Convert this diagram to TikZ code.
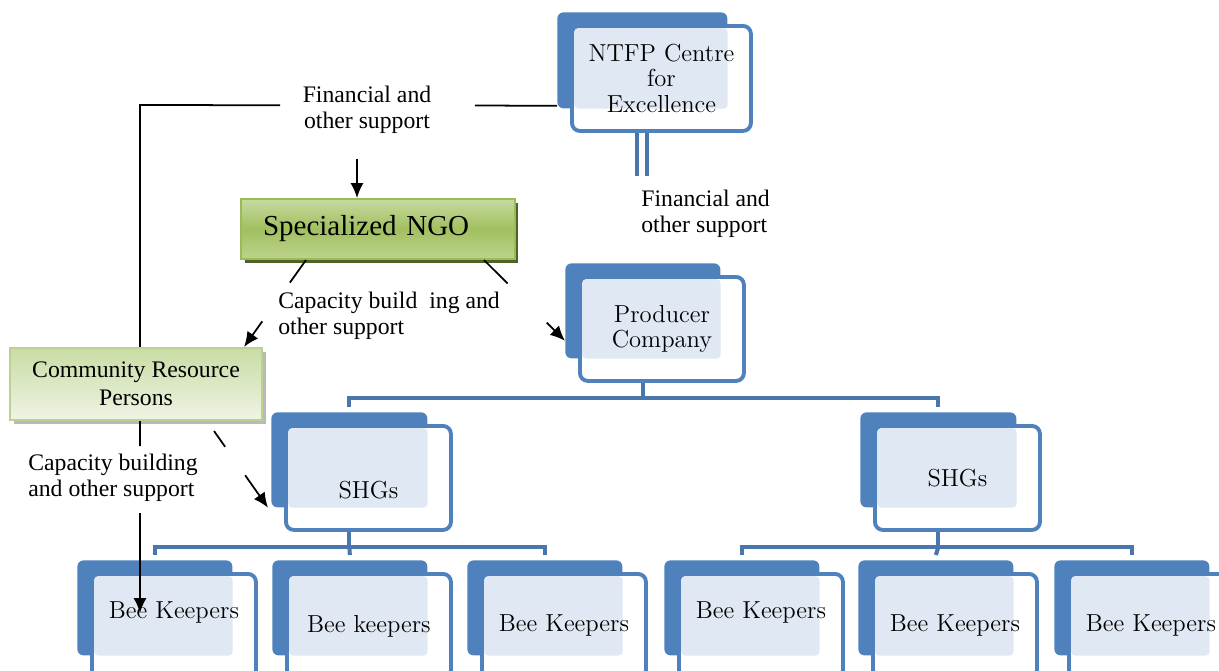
\documentclass[tikz,border=0pt]{standalone}
\usepackage{fontspec}
\usepackage{tikz}
\usetikzlibrary{calc,arrows.meta,shadows}
\newfontfamily\timesf{Liberation Serif}
\definecolor{tabblue}{HTML}{4F81BD}
\definecolor{treeblue}{HTML}{4A76AE}
\definecolor{texfill}{HTML}{E0E8F3}
\definecolor{ngotop}{HTML}{C5DA9E}
\definecolor{ngomid}{HTML}{A2C060}
\definecolor{ngobot}{HTML}{BCD38E}
\definecolor{ngoline}{HTML}{9BBB59}
\definecolor{ngoshade}{HTML}{4F6228}
\definecolor{crptop}{HTML}{C9DCA4}
\definecolor{crpbot}{HTML}{EEF4E4}
\definecolor{crpline}{HTML}{BCD291}
\pgfdeclarelayer{bg}
\pgfsetlayers{bg,main}

\tikzset{
	backbox/.style={fill=tabblue,rounded corners=3.5pt,inner sep=0pt},
	frontbox/.style={draw=tabblue,line width=2.2pt,fill=white,rounded corners=4.5pt,inner sep=0pt},
	boxtext/.style={align=center,font=\fontsize{14}{14.5}\selectfont,inner sep=0pt},
	ngobox/.style={draw=ngoline,line width=1.2pt,top color=ngotop,bottom color=ngobot,middle color=ngomid,
		minimum height=1.2cm,text width=4.6cm,align=left,inner xsep=0.44cm,font=\timesf\fontsize{16.5}{18}\selectfont,
		drop shadow={shadow xshift=0.07cm,shadow yshift=-0.08cm,fill=ngoshade,opacity=1}},
	crpbox/.style={draw=crpline,line width=1.2pt,top color=crptop,bottom color=crpbot,
		minimum width=5.04cm,minimum height=1.44cm,align=center,font=\timesf\fontsize{13.5}{15.9}\selectfont,
		drop shadow={shadow xshift=0.08cm,shadow yshift=-0.08cm,fill=gray!55,opacity=1}},
	lbl/.style={font=\timesf\fontsize{13.5}{14.8}\selectfont,inner sep=0pt},
	link/.style={line width=1pt},
	arr/.style={link,-{Latex[length=8.5pt,width=7.5pt]}},
	tree/.style={draw=treeblue,line width=2.3pt},
}

\newcommand{\orgbox}[7]{%
	\node[backbox,anchor=north west,minimum width={#4*0.02cm},minimum height={#5*0.02cm}] (#1-back) at (#2,#3) {};
	\node[frontbox,anchor=north west,minimum width={(#4+9)*0.02cm},minimum height={(#5+9)*0.02cm}] (#1) at (#2+13,#3+12) {};
	\fill[texfill,rounded corners=2.5pt] ([shift={(0.08cm,-0.08cm)}]#1.north west) rectangle (#1-back.south east);
	\node[boxtext] (#1-text) at ([yshift={-0.02cm*(#6)}]#1.center) {#7};
}

\begin{document}
\begin{tikzpicture}[x=0.02cm,y=-0.02cm]
	\useasboundingbox (0,0) rectangle (1219,670);

	\orgbox{ntfp}{557}{12}{170}{96}{0}{NTFP Centre\\for\\Excellence}
	\orgbox{prod}{565}{263}{155}{95}{0}{Producer\\Company}
	\orgbox{shgl}{271}{412}{156}{95}{12}{SHGs}
	\orgbox{shgr}{860}{412}{156}{95}{0}{SHGs}
	\orgbox{bka}{77}{560}{155}{95}{-13}{Bee Keepers}
	\orgbox{bkb}{272}{560}{155}{95}{0}{Bee keepers}
	\orgbox{bkc}{467}{560}{155}{95}{0}{Bee Keepers}
	\orgbox{bkd}{664}{560}{155}{95}{-13}{Bee Keepers}
	\orgbox{bke}{858}{560}{155}{95}{0}{Bee Keepers}
	\orgbox{bkf}{1054}{560}{155}{95}{0}{Bee Keepers}

	\node[ngobox] (ngo) at (378,229) {Specialized NGO};
	\node[crpbox] (crp) at (136,384) {Community Resource\\Persons};

	\node[lbl,align=center] (fin1) at (367,110) {Financial and\\other support};
	\node[lbl,align=left,anchor=west] (fin2) at (641,214) {Financial and\\other support};
	\node[lbl,align=left,anchor=west] (cap1) at (278,316) {Capacity build\hspace{0.24cm}ing and\\other support};
	\node[lbl,align=left,anchor=west] (cap2) at (28,478) {Capacity building\\and other support};

	\begin{pgfonlayer}{bg}
	\path (ntfp-back.south |- ntfp.south) ++(0,43) coordinate (ntfp-out);
	\draw[tree,double=white,double distance=0.12cm,line width=0.08cm] (ntfp-back.south |- ntfp.south) -- (ntfp-out);
	\path (prod-back.south |- prod.south) ++(0,15) coordinate (prod-j);
	\draw[tree] (prod-back.south |- prod.south) -- (prod-j);
	\draw[tree] ([yshift=0.1cm]shgl-back.north) |- (prod-j) -| ([yshift=0.1cm]shgr-back.north);
	\path (shgl-back.south |- shgl.south) ++(0,15) coordinate (shgl-j);
	\draw[tree] (shgl-back.south |- shgl.south) -- (shgl-j);
	\draw[tree] ([yshift=0.1cm]bka-back.north) |- (shgl-j) -| ([yshift=0.1cm]bkc-back.north);
	\draw[tree] (shgl-j) -- ([yshift=0.1cm]bkb-back.north);
	\path (shgr-back.south |- shgr.south) ++(0,15) coordinate (shgr-j);
	\draw[tree] (shgr-back.south |- shgr.south) -- (shgr-j);
	\draw[tree] ([yshift=0.1cm]bkd-back.north) |- (shgr-j) -| ([yshift=0.1cm]bkf-back.north);
	\draw[tree] (shgr-j) -- ([yshift=0.1cm]bke-back.north);
	\end{pgfonlayer}

	\coordinate (fin-start) at ([yshift=0.06cm]ntfp-back.south west);
	\coordinate (corner) at (140,105);
	\draw[link] (fin-start) -- ($(fin-start)!0.197!(corner)$);
	\draw[link] ($(fin-start)!0.664!(corner)$) -- (corner) -- (corner |- crp.north);
	\draw[arr] ([xshift=-0.2cm,yshift=-0.5cm]fin1.south) -- ([xshift=-0.2cm]fin1.south |- ngo.north);

	\coordinate (crp-out) at (corner |- crp.south);
	\coordinate (bk-in) at (corner |- bka-text.center);
	\draw[link] (crp-out) -- ($(crp-out)!0.13!(bk-in)$);
	\draw[arr] ($(crp-out)!0.48!(bk-in)$) -- (bk-in);

	\coordinate (ngo-l) at ([xshift=1.32cm]ngo.south west);
	\coordinate (crp-in) at ([xshift=-0.38cm]crp.north east);
	\draw[link] (ngo-l) -- ($(ngo-l)!0.26!(crp-in)$);
	\draw[arr] ($(ngo-l)!0.705!(crp-in)$) -- (crp-in);

	\coordinate (ngo-r) at ([xshift=-0.64cm]ngo.south east);
	\coordinate (prod-in) at ([yshift=-0.6cm]prod-back.west);
	\draw[link] (ngo-r) -- ($(ngo-r)!0.29!(prod-in)$);
	\draw[arr] ($(ngo-r)!0.775!(prod-in)$) -- (prod-in);

	\coordinate (crp-r) at ([xshift=-0.98cm,yshift=-0.2cm]crp.south east);
	\coordinate (shg-in) at ([xshift=-0.06cm]shgl-back.south west);
	\draw[link] (crp-r) -- ($(crp-r)!0.205!(shg-in)$);
	\draw[arr] ($(crp-r)!0.577!(shg-in)$) -- (shg-in);
\end{tikzpicture}
\end{document}
